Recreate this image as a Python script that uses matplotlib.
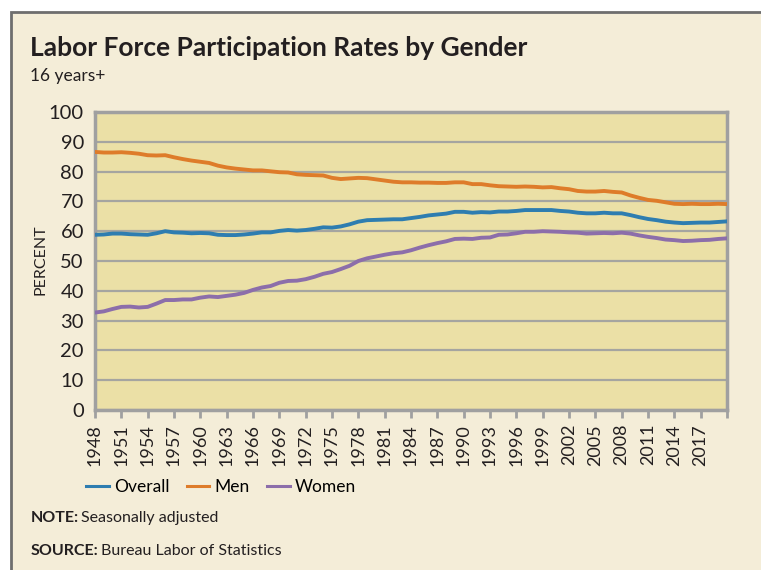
import matplotlib
matplotlib.use("Agg")
import matplotlib.pyplot as plt
from matplotlib.patches import Rectangle
from matplotlib.lines import Line2D

years = list(range(1948, 2020)) + [2020]
overall = [58.8, 58.9, 59.2, 59.2, 59.0, 58.9, 58.8, 59.3, 60.0, 59.6, 59.5, 59.3,
           59.4, 59.3, 58.8, 58.7, 58.7, 58.9, 59.2, 59.6, 59.6, 60.1, 60.4, 60.2,
           60.4, 60.8, 61.3, 61.2, 61.6, 62.3, 63.2, 63.7, 63.8, 63.9, 64.0, 64.0,
           64.4, 64.8, 65.3, 65.6, 65.9, 66.5, 66.5, 66.2, 66.4, 66.3, 66.6, 66.6,
           66.8, 67.1, 67.1, 67.1, 67.1, 66.8, 66.6, 66.2, 66.0, 66.0, 66.2, 66.0,
           66.0, 65.4, 64.7, 64.1, 63.7, 63.2, 62.9, 62.7, 62.8, 62.9, 62.9, 63.1, 63.3]
men = [86.6, 86.4, 86.4, 86.5, 86.3, 86.0, 85.5, 85.4, 85.5, 84.8, 84.2, 83.7,
       83.3, 82.9, 82.0, 81.4, 81.0, 80.7, 80.4, 80.4, 80.1, 79.8, 79.7, 79.1,
       78.9, 78.8, 78.7, 77.9, 77.5, 77.7, 77.9, 77.8, 77.4, 77.0, 76.6, 76.4,
       76.4, 76.3, 76.3, 76.2, 76.2, 76.4, 76.4, 75.8, 75.8, 75.4, 75.1, 75.0,
       74.9, 75.0, 74.9, 74.7, 74.8, 74.4, 74.1, 73.5, 73.3, 73.3, 73.5, 73.2,
       73.0, 72.0, 71.2, 70.5, 70.2, 69.7, 69.2, 69.1, 69.2, 69.1, 69.1, 69.2, 69.1]
women = [32.7, 33.1, 33.9, 34.6, 34.7, 34.4, 34.6, 35.7, 36.9, 36.9, 37.1, 37.1,
         37.7, 38.1, 37.9, 38.3, 38.7, 39.3, 40.3, 41.1, 41.6, 42.7, 43.3, 43.4,
         43.9, 44.7, 45.7, 46.3, 47.3, 48.4, 50.0, 50.9, 51.5, 52.1, 52.6, 52.9,
         53.6, 54.5, 55.3, 56.0, 56.6, 57.4, 57.5, 57.4, 57.8, 57.9, 58.8, 58.9,
         59.3, 59.8, 59.8, 60.0, 59.9, 59.8, 59.6, 59.5, 59.2, 59.3, 59.4, 59.3,
         59.5, 59.2, 58.6, 58.1, 57.7, 57.2, 57.0, 56.7, 56.8, 57.0, 57.1, 57.4, 57.6]

x_ticks = list(range(1948, 2021, 3))
x_labels = [str(y) for y in range(1948, 2018, 3)] + [""]
y_ticks = list(range(0, 101, 10))

series_names = ["Overall", "Men", "Women"]
colors = ["#2E7DB0", "#DE7C2A", "#8C6EAA"]

W, H = 761, 570
fig = plt.figure(figsize=(W / 100, H / 100), dpi=100)
fig.patch.set_facecolor("white")

FONT = "Lato"
cream = "#F4EDD8"
frame = Rectangle((11 / W, -0.01), 1.0, (H - 12) / H + 0.01, transform=fig.transFigure,
                  facecolor=cream, edgecolor="#6E6E6E", linewidth=2, zorder=-10)
fig.patches.append(frame)

ax = fig.add_axes([95 / W, (H - 410) / H, (727 - 95) / W, (410 - 112) / H])
ax.set_zorder(2)
ax.set_facecolor("#EBE0A6")
for name, vals, c in zip(series_names, [overall, men, women], colors):
    ax.plot(years, vals, color=c, linewidth=2.8, label=name, zorder=3)

ax.set_xlim(1948, 2020)
ax.set_ylim(0, 100)
ax.set_yticks(y_ticks)
ax.set_yticklabels([str(v) for v in y_ticks], fontsize=14.5, family=FONT, color="#231F20")
ax.set_xticks(x_ticks)
ax.set_xticklabels(x_labels, rotation=90, fontsize=13, family=FONT, color="#231F20")
ax.tick_params(axis="y", length=0, pad=8)
ax.tick_params(axis="x", length=6, width=2, color="#A0A0A0", pad=4, direction="out")
ax.grid(axis="y", color="#A5A5A0", linewidth=1.6, zorder=1)
ax.set_axisbelow(True)
for s in ["left", "right", "top", "bottom"]:
    ax.spines[s].set_color("#A0A0A0")
    ax.spines[s].set_linewidth(2.5)

fig.text(40 / W, 1 - 260 / H, "PERCENT", rotation=90, ha="center", va="center",
         fontsize=11.5, family=FONT, color="#231F20")

fig.text(30 / W, 1 - 48 / H, "Labor Force Participation Rates by Gender", ha="left",
         va="center", fontsize=19, fontweight="bold", family=FONT, color="#231F20")
fig.text(30 / W, 1 - 76 / H, "16 years+", ha="left", va="center", fontsize=12.5,
         family=FONT, color="#231F20")

handles = [Line2D([0], [0], color=c, linewidth=2.2) for c in colors]
fig.legend(handles, series_names, loc="center", bbox_to_anchor=(221 / W, 1 - 487 / H),
           ncol=3, frameon=False, handlelength=1.3, handletextpad=0.3,
           columnspacing=1.0, prop={"family": FONT, "size": 12.5})

fig.text(31 / W, 1 - 518 / H, "NOTE:", ha="left", va="center", fontsize=11.5,
         fontweight="bold", family=FONT, color="#231F20")
fig.text(81 / W, 1 - 518 / H, "Seasonally adjusted", ha="left", va="center", fontsize=11.5,
         family=FONT, color="#231F20")
fig.text(31 / W, 1 - 551 / H, "SOURCE:", ha="left", va="center", fontsize=11.5,
         fontweight="bold", family=FONT, color="#231F20")
fig.text(101 / W, 1 - 551 / H, "Bureau Labor of Statistics", ha="left", va="center",
         fontsize=11.5, family=FONT, color="#231F20")

fig.savefig("out.png", dpi=100, facecolor=fig.get_facecolor())
